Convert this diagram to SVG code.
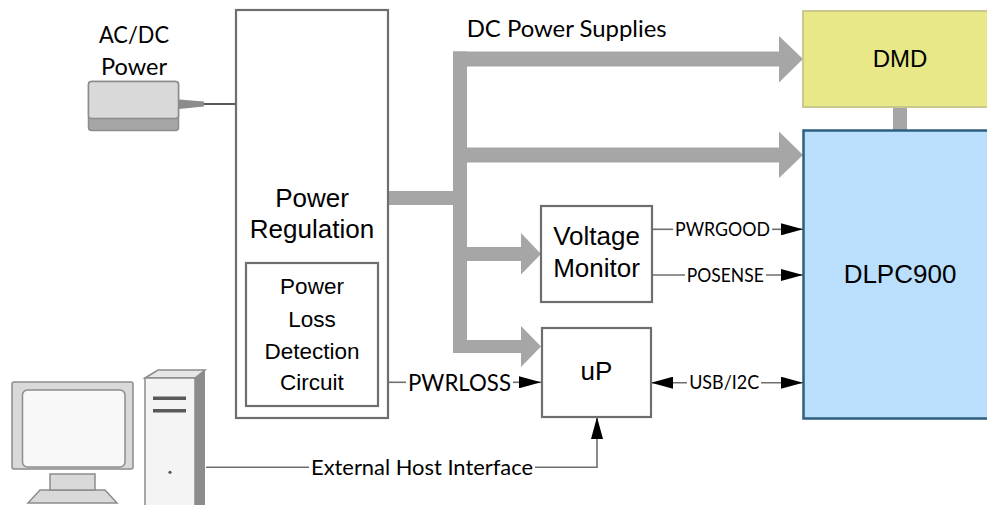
<svg xmlns="http://www.w3.org/2000/svg" width="987" height="505" viewBox="0 0 987 505">
<defs>
<marker id="arr" markerUnits="userSpaceOnUse" markerWidth="22" markerHeight="12" refX="22" refY="6" orient="auto-start-reverse">
<path d="M0,0 L22,6 L0,12 z" fill="#000"/>
</marker>
<style>
.box{fill:#fff;stroke:#6e6e6e;stroke-width:2.2}
.ar{font-family:"Liberation Sans",Arial,sans-serif;fill:#000;text-anchor:middle}
.lb{font-family:Lato,"Open Sans",sans-serif;fill:#000;text-anchor:middle}
.bus{fill:#a6a6a6}
.wire{fill:none;stroke:#6e6e6e;stroke-width:1.6}
</style>
</defs>
<rect width="987" height="505" fill="#fff"/>

<g id="connectors">
<!-- power bus -->
<rect class="bus" x="387" y="191" width="73" height="14"/>
<rect class="bus" x="453" y="51.5" width="14" height="301.5"/>
<rect class="bus" x="453" y="51.5" width="326" height="15"/>
<polygon class="bus" points="779,36 803,59 779,82.5"/>
<rect class="bus" x="460" y="147.5" width="319" height="15"/>
<polygon class="bus" points="779,131.5 803,155 779,178"/>
<rect class="bus" x="460" y="247" width="62" height="14"/>
<polygon class="bus" points="521,233 541,254 521,274.5"/>
<rect class="bus" x="453" y="340" width="69" height="13"/>
<polygon class="bus" points="521,326 541,346.5 521,367"/>
<rect class="bus" x="893" y="106" width="14" height="25"/>
<!-- AC/DC cable -->
<line x1="203" y1="104" x2="236" y2="104" stroke="#5a5a5a" stroke-width="2"/>
<!-- PWRLOSS -->
<line class="wire" x1="378" y1="382.3" x2="406" y2="382.3"/>
<line class="wire" x1="513" y1="382.3" x2="541" y2="382.3" marker-end="url(#arr)"/>
<text class="lb" x="459.5" y="390.5" font-size="22.5" textLength="103" lengthAdjust="spacingAndGlyphs">PWRLOSS</text>
<!-- PWRGOOD -->
<line class="wire" x1="652" y1="229.3" x2="673" y2="229.3"/>
<line class="wire" x1="772" y1="229.3" x2="803" y2="229.3" marker-end="url(#arr)"/>
<text class="lb" x="722.5" y="236" font-size="18.5" textLength="95" lengthAdjust="spacingAndGlyphs">PWRGOOD</text>
<!-- POSENSE -->
<line class="wire" x1="652" y1="275" x2="685" y2="275"/>
<line class="wire" x1="766" y1="275" x2="803" y2="275" marker-end="url(#arr)"/>
<text class="lb" x="725.3" y="281.5" font-size="18.5" textLength="77" lengthAdjust="spacingAndGlyphs">POSENSE</text>
<!-- USB/I2C -->
<line class="wire" x1="651" y1="382.7" x2="687" y2="382.7" marker-start="url(#arr)"/>
<line class="wire" x1="761" y1="382.7" x2="803" y2="382.7" marker-end="url(#arr)"/>
<text class="lb" x="724.2" y="389" font-size="18.5" textLength="70" lengthAdjust="spacingAndGlyphs">USB/I2C</text>
<!-- External host -->
<line class="wire" x1="206" y1="467.3" x2="309" y2="467.3"/>
<polyline class="wire" points="535,467.3 597,467.3 597,417" marker-end="url(#arr)"/>
<text class="lb" x="422" y="474.5" font-size="21" textLength="222" lengthAdjust="spacingAndGlyphs">External Host Interface</text>
<!-- DC label -->
<text class="lb" x="566.7" y="36.7" font-size="23" textLength="200" lengthAdjust="spacingAndGlyphs">DC Power Supplies</text>
</g>

<g id="acdc-power">
<text class="lb" x="134" y="43.3" font-size="23" textLength="70" lengthAdjust="spacingAndGlyphs">AC/DC</text>
<text class="lb" x="134" y="75" font-size="23" textLength="66" lengthAdjust="spacingAndGlyphs">Power</text>
<rect x="88.5" y="81.5" width="90" height="49" rx="3" fill="#a6a6a6" stroke="#8c8c8c" stroke-width="1.5"/>
<rect x="88.5" y="81.5" width="90" height="37" rx="3" fill="#d9d9d9" stroke="#8c8c8c" stroke-width="1.5"/>
<polygon points="179,99.5 204,101.5 204,106.5 179,109" fill="#8c8c8c"/>
</g>

<g id="power-regulation">
<rect class="box" x="236" y="10" width="152" height="408"/>
<text class="ar" x="312" y="206.7" font-size="26">Power</text>
<text class="ar" x="312" y="238.3" font-size="26">Regulation</text>
</g>

<g id="power-loss-detection">
<rect class="box" x="246" y="263" width="132" height="143"/>
<text class="ar" x="312" y="294.3" font-size="22.5">Power</text>
<text class="ar" x="312" y="326.7" font-size="22.5">Loss</text>
<text class="ar" x="312" y="359" font-size="22.5">Detection</text>
<text class="ar" x="312" y="390" font-size="22.5">Circuit</text>
</g>

<g id="voltage-monitor">
<rect class="box" x="541" y="206" width="111" height="96"/>
<text class="ar" x="596.5" y="245" font-size="26">Voltage</text>
<text class="ar" x="596.5" y="277.3" font-size="26">Monitor</text>
</g>

<g id="up">
<rect class="box" x="542" y="328" width="109" height="89"/>
<text class="ar" x="596.5" y="380" font-size="26">uP</text>
</g>

<g id="dmd">
<rect x="803" y="11" width="194" height="96" fill="#e8e889" stroke="#c9c98e" stroke-width="2"/>
<text class="ar" x="900" y="66.7" font-size="24">DMD</text>
</g>

<g id="dlpc900">
<rect x="803.5" y="130.5" width="194" height="288" fill="#b9dffd" stroke="#2e5f7e" stroke-width="2.5"/>
<text class="ar" x="900" y="283.3" font-size="26">DLPC900</text>
</g>

<g id="host-pc">
<!-- monitor -->
<polygon points="40,490 105,490 117,503 28,503" fill="#d9d9d9" stroke="#8c8c8c" stroke-width="1.5"/>
<rect x="50" y="474" width="45" height="16" fill="#d9d9d9" stroke="#8c8c8c" stroke-width="1.5"/>
<rect x="12" y="382" width="121" height="87" rx="2" fill="#d9d9d9" stroke="#8c8c8c" stroke-width="1.5"/>
<rect x="22.5" y="390" width="102.5" height="77" rx="5" fill="#f8f8f8" stroke="#8c8c8c" stroke-width="1.5"/>
<!-- tower -->
<polygon points="195,378 205,370 205,505 195,505" fill="#8c8c8c"/>
<polygon points="145,378 158,370 205,370 195,378" fill="#e6e6e6" stroke="#8c8c8c" stroke-width="1.5"/>
<rect x="145" y="378" width="50" height="130" fill="#f4f4f4" stroke="#8c8c8c" stroke-width="1.5"/>
<rect x="153" y="396.5" width="33" height="3.5" fill="#595959"/>
<rect x="153" y="409" width="33" height="3.5" fill="#595959"/>
<circle cx="170" cy="472.3" r="1.6" fill="#595959"/>
</g>
</svg>
